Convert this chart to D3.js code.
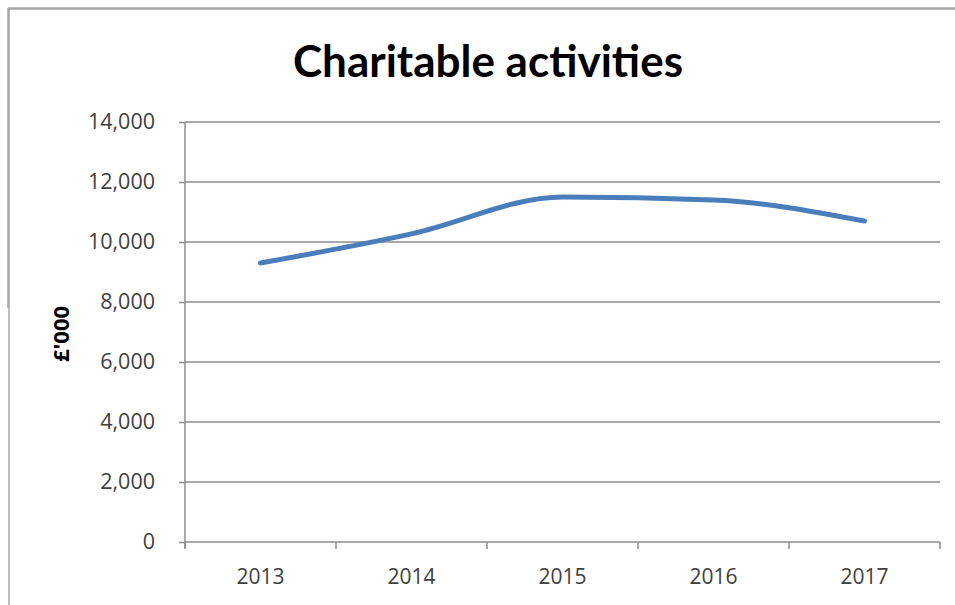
<!DOCTYPE html>
<html><head><meta charset="utf-8">
<script src="https://cdn.jsdelivr.net/npm/d3@7"></script>
<style>body{margin:0;background:#fff}svg{display:block}</style>
</head><body>
<svg id="c" width="955" height="605"></svg>
<script>
const title = "Charitable activities";
const yLabel = "£'000";
const categories = ["2013","2014","2015","2016","2017"];
const values = [9300, 10270, 11500, 11400, 10700];
const yTicks = [0,2000,4000,6000,8000,10000,12000,14000];

const svg = d3.select("#c");
const m = {left:185, right:940, top:122, bottom:542};

// frame
svg.append("line").attr("x1",8).attr("x2",955).attr("y1",8.5).attr("y2",8.5).attr("stroke","#a6a6a6").attr("stroke-width",2.5);
svg.append("line").attr("x1",8.5).attr("x2",8.5).attr("y1",8).attr("y2",308).attr("stroke","#a6a6a6").attr("stroke-width",2.5);
svg.append("line").attr("x1",9).attr("x2",9).attr("y1",308).attr("y2",605).attr("stroke","#a6a6a6").attr("stroke-width",1.5);

const x = d3.scaleBand().domain(categories).range([m.left,m.right]);
const y = d3.scaleLinear().domain([0,14000]).range([m.bottom,m.top]);

// gridlines
svg.append("g").selectAll("line").data(yTicks.filter(d=>d>0)).join("line")
  .attr("x1",m.left).attr("x2",m.right).attr("y1",d=>y(d)).attr("y2",d=>y(d))
  .attr("stroke","#8c8c8c").attr("stroke-width",1.5);

// y axis
const ya = svg.append("g").attr("transform",`translate(${m.left},0)`)
  .call(d3.axisLeft(y).tickValues(yTicks).tickSize(6).tickPadding(24).tickFormat(d3.format(",")));
ya.select(".domain").remove();
ya.selectAll(".tick line").attr("stroke","#8c8c8c").attr("stroke-width",1.5);
ya.selectAll("text").attr("font-family","Open Sans, sans-serif").attr("font-size",21.5).attr("fill","#404040");
svg.append("line").attr("x1",m.left).attr("x2",m.left).attr("y1",m.top).attr("y2",m.bottom+6).attr("stroke","#8c8c8c").attr("stroke-width",1.5);

// x axis
const xa = svg.append("g").attr("transform",`translate(0,${m.bottom})`)
  .call(d3.axisBottom(x).tickSize(0).tickPadding(27));
xa.select(".domain").attr("stroke","#8c8c8c").attr("stroke-width",1.5).attr("d",`M${m.left},0H${m.right}`);
xa.selectAll("text").attr("font-family","Open Sans, sans-serif").attr("font-size",21).attr("fill","#404040");
const bounds = categories.map(c=>x(c)).concat([m.right]);
svg.append("g").selectAll("line").data(bounds).join("line")
  .attr("x1",d=>d).attr("x2",d=>d).attr("y1",m.bottom).attr("y2",m.bottom+7)
  .attr("stroke","#8c8c8c").attr("stroke-width",1.5);

// line
const line = d3.line().x((d,i)=>x(categories[i])+x.bandwidth()/2).y(d=>y(d)).curve(d3.curveMonotoneX);
svg.append("path").datum(values).attr("d",line).attr("fill","none")
  .attr("stroke","#4a7ebb").attr("stroke-width",5).attr("stroke-linecap","round");

// title
svg.append("text").attr("x",488).attr("y",77).attr("text-anchor","middle")
  .attr("font-family","Lato, sans-serif").attr("font-weight","bold").attr("font-size",44).attr("fill","#000").text(title);

// y label
svg.append("text").attr("transform","translate(69,334) rotate(-90)").attr("text-anchor","middle")
  .attr("font-family","Open Sans, sans-serif").attr("font-weight","bold").attr("font-size",22).attr("fill","#000").text(yLabel);
</script>
</body></html>
